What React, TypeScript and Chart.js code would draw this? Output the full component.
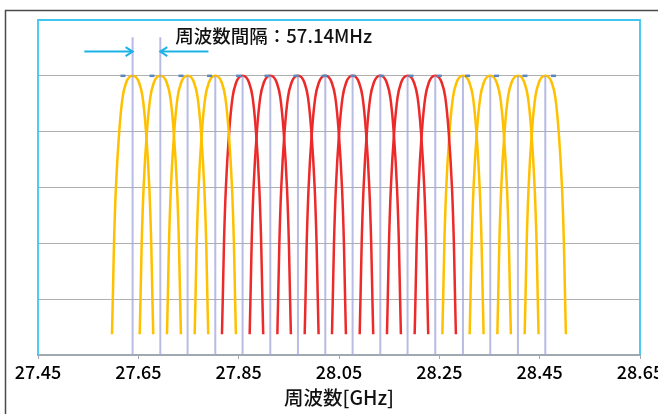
import { useEffect, useRef } from "react";
import { Chart, registerables } from "chart.js";

Chart.register(...registerables);

// ---- data ----
const carrierCenters = [
  27.6386, 27.6938, 27.7482, 27.8034, 27.8578, 27.913, 27.9682, 28.0227,
  28.0771, 28.1323, 28.1867, 28.2419, 28.2971, 28.3515, 28.4067, 28.4612,
];
const carrierBand = [
  "guard", "guard", "guard", "guard",
  "core", "core", "core", "core", "core", "core", "core", "core",
  "guard", "guard", "guard", "guard",
];
// one sub-carrier lobe: offset from its centre (GHz) and relative level
const pulseOffsets = [
  -0.0411, -0.0395, -0.0371, -0.0333, -0.0267, -0.0199, -0.0124, -0.007, 0,
  0.007, 0.0124, 0.0199, 0.0267, 0.0333, 0.0371, 0.0395, 0.0411,
];
const pulseLevels = [
  0.074, 0.2, 0.4, 0.6, 0.8, 0.924, 0.978, 0.995, 1, 0.995, 0.978, 0.924, 0.8,
  0.6, 0.4, 0.2, 0.074,
];
// 57.14 MHz grid markers
const markerFreqs = [
  27.6194, 27.6772, 27.735, 27.792, 27.8498, 27.9065, 27.9643, 28.0213,
  28.0779, 28.1343, 28.1935, 28.2499, 28.3063, 28.3641, 28.4207, 28.4777,
];
const markerLevel = 1.0;
const guideTops = [1.138, 1.138, 1, 1, 1, 1, 1, 1, 1, 1, 1, 1, 1, 1, 1, 1];
const xTicks = [27.45, 27.65, 27.85, 28.05, 28.25, 28.45, 28.65];
const xMin = 27.45;
const xMax = 28.65;
const yMax = 1.2;
const xTitle = "周波数[GHz]";
const spacingLabel = "周波数間隔：57.14MHz";
const arrowLevel = 1.087;
const arrowTails = [27.5424, 27.7897];
const labelX = 27.7237;
const labelLevel = 1.144;

const FONT = '"Noto Sans CJK JP", "Noto Sans", sans-serif';
const bandColor: Record<string, string> = { guard: "#FFC000", core: "#EC2A2A" };

const decor = {
  id: "decor",
  beforeDraw(chart: any) {
    const ctx = chart.ctx;
    ctx.save();
    ctx.strokeStyle = "#4a4a4a";
    ctx.lineWidth = 1.5;
    ctx.beginPath();
    ctx.moveTo(5.5, 430);
    ctx.lineTo(5.5, 10.5);
    ctx.lineTo(720, 10.5);
    ctx.stroke();
    ctx.restore();
  },
  afterDatasetsDraw(chart: any) {
    const { ctx, chartArea: a, scales } = chart;
    const x = scales.x;
    const y = scales.y;
    ctx.save();
    // cyan plot frame
    ctx.strokeStyle = "#3EC6F0";
    ctx.lineWidth = 1.8;
    ctx.beginPath();
    ctx.moveTo(a.left, a.bottom);
    ctx.lineTo(a.left, a.top);
    ctx.lineTo(a.right, a.top);
    ctx.lineTo(a.right, a.bottom);
    ctx.stroke();

    // arrows
    const ay = y.getPixelForValue(arrowLevel);
    ctx.strokeStyle = "#1DB2E6";
    ctx.lineWidth = 2;
    for (let i = 0; i < 2; i++) {
      const tail = x.getPixelForValue(arrowTails[i]);
      const head = x.getPixelForValue(carrierCenters[i]);
      const dir = head > tail ? 1 : -1;
      ctx.beginPath();
      ctx.moveTo(tail, ay);
      ctx.lineTo(head, ay);
      ctx.stroke();
      ctx.beginPath();
      ctx.moveTo(head - dir * 7, ay - 4.5);
      ctx.lineTo(head, ay);
      ctx.lineTo(head - dir * 7, ay + 4.5);
      ctx.stroke();
    }

    // label
    ctx.fillStyle = "#111";
    ctx.font = `500 18.5px ${FONT}`;
    ctx.textAlign = "left";
    ctx.textBaseline = "middle";
    ctx.fillText(spacingLabel, x.getPixelForValue(labelX), y.getPixelForValue(labelLevel));
    ctx.restore();
  },
};

export default function App() {
  const ref = useRef<HTMLCanvasElement | null>(null);

  useEffect(() => {
    if (!ref.current) return;
    Chart.defaults.font.family = FONT;

    const datasets: any[] = [];
    datasets.push({
      data: markerFreqs.map((f) => ({ x: f, y: markerLevel })),
      showLine: false,
      pointStyle: "line",
      pointRadius: 2.5,
      pointBorderWidth: 2.5,
      pointBorderColor: "#5A87BC",
      pointBackgroundColor: "#5A87BC",
      order: 0,
    });
    carrierCenters.forEach((c, i) => {
      datasets.push({
        data: [
          { x: c, y: 0 },
          { x: c, y: guideTops[i] },
        ],
        borderColor: "rgba(160,165,218,0.75)",
        borderWidth: 2,
        pointRadius: 0,
        tension: 0,
        order: 1,
      });
    });
    carrierCenters.forEach((c, i) => {
      datasets.push({
        data: pulseOffsets.map((o, j) => ({ x: c + o, y: pulseLevels[j] })),
        borderColor: bandColor[carrierBand[i]],
        borderWidth: 2.5,
        pointRadius: 0,
        fill: false,
        cubicInterpolationMode: "monotone",
        order: 2,
      });
    });

    const chart = new Chart(ref.current, {
      type: "line",
      data: { datasets },
      plugins: [decor],
      options: {
        animation: false,
        responsive: false,
        events: [],
        layout: { padding: { left: 38, top: 20, right: 50, bottom: 0 } },
        plugins: { legend: { display: false }, tooltip: { enabled: false } },
        scales: {
          x: {
            type: "linear",
            min: xMin,
            max: xMax,
            afterBuildTicks: (s: any) => {
              s.ticks = xTicks.map((v) => ({ value: v }));
            },
            afterFit: (s: any) => {
              s.height = 59;
            },
            ticks: {
              callback: (v: any) => Number(v).toFixed(2),
              font: { size: 18, weight: "500" },
              color: "#000",
              padding: 2,
              maxRotation: 0,
              autoSkip: false,
            },
            grid: {
              drawOnChartArea: false,
              drawTicks: true,
              tickLength: 4,
              tickColor: "#A0A8B0",
            },
            border: { display: true, color: "#A0A8B0", width: 2 },
            title: {
              display: true,
              text: xTitle,
              font: { size: 19.5, weight: "500" },
              color: "#111",
              padding: { top: 0, bottom: 5 },
            },
          },
          y: {
            type: "linear",
            min: 0,
            max: yMax,
            ticks: { display: false, stepSize: 0.2 },
            grid: { color: "#B0B0B0", lineWidth: 1, drawTicks: false },
            border: { display: false },
          },
        },
      },
    } as any);
    return () => chart.destroy();
  }, []);

  return (
    <div
      style={{
        position: "fixed",
        left: 0,
        top: 0,
        width: 658,
        height: 414,
        overflow: "hidden",
        background: "#fff",
      }}
    >
      <canvas ref={ref} width={690} height={414} style={{ display: "block" }} />
    </div>
  );
}
